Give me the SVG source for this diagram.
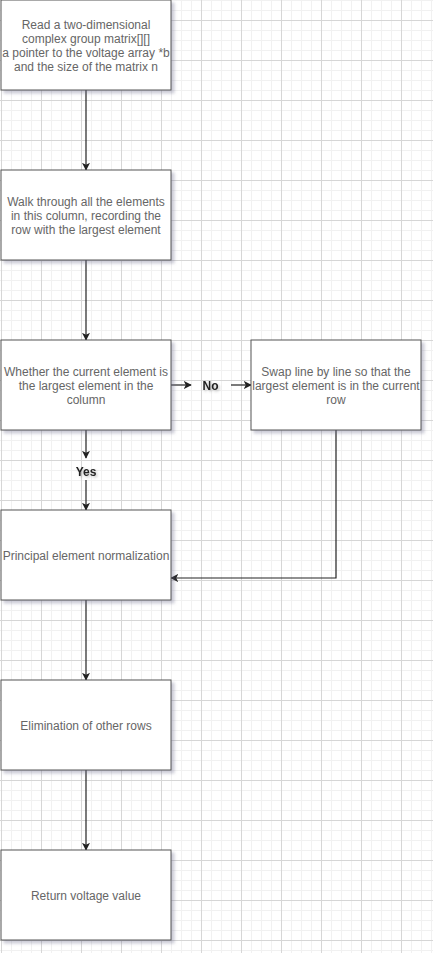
<svg xmlns="http://www.w3.org/2000/svg" width="433" height="953" viewBox="0 0 433 953">
<defs>
<pattern id="grid" x="1" y="0" width="40" height="40" patternUnits="userSpaceOnUse">
<path d="M10.5 0V40M20.5 0V40M30.5 0V40M0 10.5H40M0 30.5H40M0 0.5H40" stroke="#f1f1f1" stroke-width="1" fill="none"/>
<path d="M0.5 0V40M0 20.5H40" stroke="#d6d6d6" stroke-width="1" fill="none"/>
</pattern>
<filter id="sh" x="-10%" y="-10%" width="130%" height="130%">
<feDropShadow dx="3" dy="3" stdDeviation="1.6" flood-color="#6a6a8a" flood-opacity="0.35"/>
</filter>
<filter id="tsh" x="-30%" y="-30%" width="160%" height="160%">
<feDropShadow dx="1.5" dy="1.5" stdDeviation="1" flood-color="#666" flood-opacity="0.4"/>
</filter>
<marker id="arr" viewBox="0 0 10 10" refX="9" refY="5" markerWidth="8" markerHeight="8" markerUnits="userSpaceOnUse" orient="auto">
<path d="M0 0L10 5L0 10L2.5 5Z" fill="#222"/>
</marker>
</defs>
<style>
.box{fill:#fff;stroke:#555;stroke-width:1;filter:url(#sh)}
.t{font-family:"Liberation Sans",Arial,sans-serif;font-size:12px;fill:#666;text-anchor:middle}
.lbl{font-family:"Liberation Sans",Arial,sans-serif;font-size:12px;fill:#222;font-weight:bold;text-anchor:middle;filter:url(#tsh)}
.e{fill:none;stroke:#222;stroke-width:1.2;marker-end:url(#arr)}
.p{fill:none;stroke:#222;stroke-width:1.2}
</style>
<rect width="433" height="953" fill="#fff"/>
<rect width="433" height="953" fill="url(#grid)"/>

<g id="connectors">
<path class="e" d="M86 90V170"/>
<path class="e" d="M86 260V340"/>
<path class="e" d="M86 430V458"/>
<path class="e" d="M86 480V510"/>
<path class="e" d="M171 385H191"/>
<path class="e" d="M231 385H251"/>
<path class="e" d="M336 430V578H171"/>
<path class="e" d="M86 600V680"/>
<path class="e" d="M86 770V850"/>
</g>

<g id="node-read">
<rect class="box" x="1" y="0" width="170" height="90"/>
<text class="t" x="86" y="28.5">Read a two-dimensional</text>
<text class="t" x="86" y="42.8">complex group matrix[][]</text>
<text class="t" x="86" y="57.1">a pointer to the voltage array *b</text>
<text class="t" x="86" y="71.4">and the size of the matrix n</text>
</g>

<g id="node-walk">
<rect class="box" x="1" y="170" width="170" height="90"/>
<text class="t" x="86" y="205.5">Walk through all the elements</text>
<text class="t" x="86" y="219.5">in this column, recording the</text>
<text class="t" x="86" y="233.5">row with the largest element</text>
</g>

<g id="node-whether">
<rect class="box" x="1" y="340" width="170" height="90"/>
<text class="t" x="86" y="375.5">Whether the current element is</text>
<text class="t" x="86" y="389.5">the largest element in the</text>
<text class="t" x="86" y="403.5">column</text>
</g>

<g id="node-swap">
<rect class="box" x="251" y="340" width="170" height="90"/>
<text class="t" x="336" y="375.5">Swap line by line so that the</text>
<text class="t" x="336" y="389.5">largest element is in the current</text>
<text class="t" x="336" y="403.5">row</text>
</g>

<g id="label-no">
<text class="lbl" x="210.5" y="390">No</text>
</g>

<g id="label-yes">
<text class="lbl" x="86" y="476">Yes</text>
</g>

<g id="node-normalize">
<rect class="box" x="1" y="510" width="170" height="90"/>
<text class="t" x="86" y="559.5">Principal element normalization</text>
</g>

<g id="node-eliminate">
<rect class="box" x="1" y="680" width="170" height="90"/>
<text class="t" x="86" y="729.5">Elimination of other rows</text>
</g>

<g id="node-return">
<rect class="box" x="1" y="850" width="170" height="90"/>
<text class="t" x="86" y="899.5">Return voltage value</text>
</g>
</svg>
